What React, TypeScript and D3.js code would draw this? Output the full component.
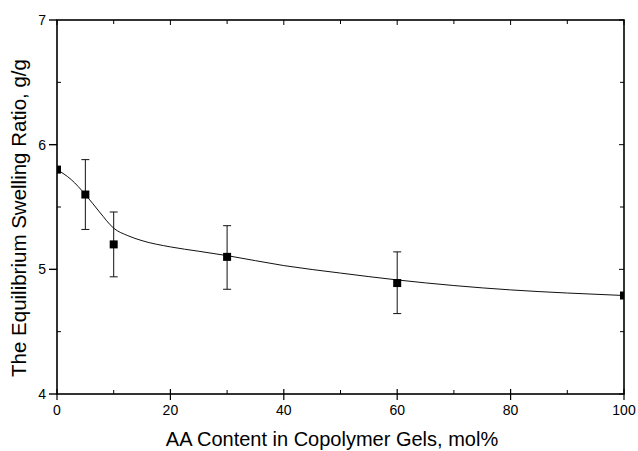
import React from "react";
import * as d3 from "d3";

const xValues = [0, 5, 10, 30, 60, 100];
const yValues = [5.8, 5.6, 5.2, 5.1, 4.89, 4.79];
const errUpper = [null, 5.88, 5.46, 5.35, 5.14, null];
const errLower = [null, 5.32, 4.94, 4.84, 4.645, null];

const fitX = [0, 2.5, 5, 7.5, 10, 12.5, 15, 20, 25, 30, 40, 50, 60, 70, 80, 90, 100];
const fitY = [5.8, 5.72, 5.6, 5.46, 5.33, 5.27, 5.23, 5.18, 5.145, 5.11, 5.03, 4.97, 4.915, 4.87, 4.835, 4.81, 4.79];

const xMajorTicks = [0, 20, 40, 60, 80, 100];
const xMinorTicks = [10, 30, 50, 70, 90];
const yMajorTicks = [4, 5, 6, 7];
const yMinorTicks = [4.5, 5.5, 6.5];

const xTitle = "AA Content in Copolymer Gels, mol%";
const yTitle = "The Equilibrium Swelling Ratio, g/g";

export default function App() {
  const W = 638, H = 451;
  const left = 57, right = 624, top = 20, bottom = 394;
  const x = d3.scaleLinear().domain([0, 100]).range([left, right]);
  const y = d3.scaleLinear().domain([4, 7]).range([bottom, top]);
  const line = d3
    .line<number>()
    .x((_, i) => x(fitX[i]))
    .y((d) => y(d))
    .curve(d3.curveMonotoneX);
  const font = "'Liberation Sans', Arial, Helvetica, sans-serif";
  const ms = 8;
  return (
    <svg
      width={W}
      height={H}
      style={{ position: "absolute", left: 0, top: 0, background: "#fff" }}
      fontFamily={font}
    >
      <defs>
        <clipPath id="plotClip">
          <rect x={left} y={top} width={right - left} height={bottom - top} />
        </clipPath>
      </defs>
      <rect x={0} y={0} width={W} height={H} fill="#fff" />
      {/* fitted curve */}
      <path d={line(fitY) || ""} fill="none" stroke="#111" strokeWidth={1} />
      {/* error bars */}
      {xValues.map((xv, i) =>
        errUpper[i] != null ? (
          <g key={"e" + i} stroke="#111" strokeWidth={1}>
            <line x1={x(xv)} x2={x(xv)} y1={y(errUpper[i] as number)} y2={y(errLower[i] as number)} />
            <line x1={x(xv) - 4} x2={x(xv) + 4} y1={y(errUpper[i] as number)} y2={y(errUpper[i] as number)} />
            <line x1={x(xv) - 4} x2={x(xv) + 4} y1={y(errLower[i] as number)} y2={y(errLower[i] as number)} />
          </g>
        ) : null
      )}
      {/* markers */}
      <g clipPath="url(#plotClip)">
        {xValues.map((xv, i) => (
          <rect key={"m" + i} x={x(xv) - ms / 2} y={y(yValues[i]) - ms / 2} width={ms} height={ms} fill="#000" />
        ))}
      </g>
      {/* frame */}
      <rect x={left} y={top} width={right - left} height={bottom - top} fill="none" stroke="#000" strokeWidth={1.6} />
      {/* y ticks */}
      {yMajorTicks.map((t) => (
        <g key={"ym" + t}>
          <line x1={left - 8} x2={left} y1={y(t)} y2={y(t)} stroke="#000" strokeWidth={1.4} />
          <line x1={right - 5} x2={right} y1={y(t)} y2={y(t)} stroke="#000" strokeWidth={1} />
          <text x={left - 11} y={y(t)} dy="0.36em" textAnchor="end" fontSize={14}>
            {t}
          </text>
        </g>
      ))}
      {yMinorTicks.map((t) => (
        <g key={"yn" + t}>
          <line x1={left} x2={left + 4} y1={y(t)} y2={y(t)} stroke="#000" strokeWidth={1} />
          <line x1={right - 4} x2={right} y1={y(t)} y2={y(t)} stroke="#000" strokeWidth={1} />
        </g>
      ))}
      {/* x ticks */}
      {xMajorTicks.map((t) => (
        <g key={"xm" + t}>
          <line x1={x(t)} x2={x(t)} y1={bottom - 5} y2={bottom + 6} stroke="#000" strokeWidth={1.2} />
          <line x1={x(t)} x2={x(t)} y1={top} y2={top + 5} stroke="#000" strokeWidth={1} />
          <text x={x(t)} y={bottom + 21} textAnchor="middle" fontSize={14}>
            {t}
          </text>
        </g>
      ))}
      {xMinorTicks.map((t) => (
        <g key={"xn" + t}>
          <line x1={x(t)} x2={x(t)} y1={bottom - 4} y2={bottom} stroke="#000" strokeWidth={1} />
          <line x1={x(t)} x2={x(t)} y1={top} y2={top + 4} stroke="#000" strokeWidth={1} />
        </g>
      ))}
      {/* titles */}
      <text x={332} y={446} textAnchor="middle" fontSize={20}>
        {xTitle}
      </text>
      <text
        transform={`translate(26, 218) rotate(-90)`}
        textAnchor="middle"
        fontSize={20.5}
      >
        {yTitle}
      </text>
    </svg>
  );
}
